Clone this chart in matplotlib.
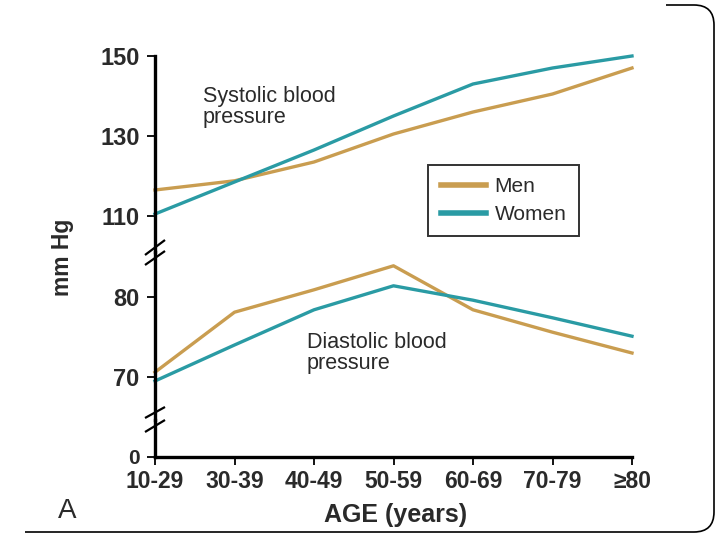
import numpy as np
import matplotlib
matplotlib.use("Agg")
import matplotlib.pyplot as plt
from matplotlib.path import Path
from matplotlib.patches import PathPatch

plt.rcParams['font.family'] = ['Liberation Sans', 'DejaVu Sans']

# ---- data
ages = ['10-29', '30-39', '40-49', '50-59', '60-69', '70-79', '\u226580']
men_sys = [116.5, 118.8, 123.5, 130.5, 136.0, 140.5, 147.0]
women_sys = [110.5, 118.5, 126.5, 135.0, 143.0, 147.0, 150.0]
men_dia = [70.6, 78.1, 80.9, 83.9, 78.4, 75.6, 73.0]
women_dia = [69.5, 74.0, 78.4, 81.4, 79.6, 77.4, 75.1]

MEN = '#C99D50'
WOMEN = '#2A9BA4'
TXT = '#2a2a2a'
W, H = 720, 540

fig = plt.figure(figsize=(W / 100, H / 100), dpi=100)
fig.patch.set_facecolor('white')


def box(x0, x1, ytop, ybot):
    # pixel box -> figure fraction rect
    return [x0 / W, 1 - ybot / H, (x1 - x0) / W, (ybot - ytop) / H]


x = np.arange(len(ages))
ax_top = fig.add_axes(box(155, 632, 56, 252))
ax_mid = fig.add_axes(box(155, 632, 252, 420))
ax_bot = fig.add_axes(box(155, 632, 420, 457))

ax_top.set_ylim(101, 150)
ax_mid.set_ylim(64.625, 85.625)
ax_bot.set_ylim(0, 37)

for ax in (ax_top, ax_mid, ax_bot):
    ax.set_xlim(0, len(ages) - 1)
    ax.patch.set_alpha(0)
    for s in ('top', 'right'):
        ax.spines[s].set_visible(False)
    ax.spines['left'].set_linewidth(2.4)
    ax.spines['bottom'].set_linewidth(2.4)
    ax.tick_params(axis='y', length=6, width=1.3, pad=5, labelsize=17,
                   labelcolor=TXT)

for ax in (ax_top, ax_mid):
    ax.spines['bottom'].set_visible(False)
    ax.set_xticks([])

ax_top.set_yticks([110, 130, 150])
ax_mid.set_yticks([70, 80])
ax_bot.set_yticks([0])
ax_bot.tick_params(axis='y', labelsize=15)
for ax in (ax_top, ax_mid, ax_bot):
    for lab in ax.get_yticklabels():
        lab.set_fontweight('bold')

ax_bot.set_xticks(x)
ax_bot.set_xticklabels(ages, fontsize=16.5, fontweight='bold', color=TXT)
ax_bot.tick_params(axis='x', length=6, width=1.3, pad=3)

lw = 2.4
l1, = ax_top.plot(x, men_sys, color=MEN, lw=lw, clip_on=False,
                  solid_joinstyle='round', label='Men')
l2, = ax_top.plot(x, women_sys, color=WOMEN, lw=lw, clip_on=False,
                  solid_joinstyle='round', label='Women')
ax_mid.plot(x, men_dia, color=MEN, lw=lw, clip_on=False, solid_joinstyle='round')
ax_mid.plot(x, women_dia, color=WOMEN, lw=lw, clip_on=False, solid_joinstyle='round')

leg = fig.legend(handles=[l1, l2], loc='upper left',
                 bbox_to_anchor=(428 / W, 1 - 165 / H), fontsize=15,
                 frameon=True, fancybox=False, handlelength=2.2,
                 handletextpad=0.4, borderpad=0.6, labelspacing=0.4,
                 borderaxespad=0)
leg.get_frame().set_edgecolor('black')
leg.get_frame().set_linewidth(1.4)
for t in leg.get_texts():
    t.set_color(TXT)
for h in leg.legend_handles:
    h.set_linewidth(4)

fig.text(203 / W, 1 - 86 / H, 'Systolic blood\npressure', fontsize=15.5,
         color=TXT, va='top', ha='left', linespacing=1.0)
fig.text(307 / W, 1 - 332 / H, 'Diastolic blood\npressure', fontsize=15.5,
         color=TXT, va='top', ha='left', linespacing=1.0)
fig.text(396 / W, 1 - 515 / H, 'AGE (years)', fontsize=18, fontweight='bold',
         color=TXT, ha='center', va='center')
fig.text(63 / W, 1 - 257 / H, 'mm Hg', fontsize=16.5, fontweight='bold',
         color=TXT, rotation=90, ha='center', va='center')
fig.text(67 / W, 1 - 511 / H, 'A', fontsize=20, color=TXT,
         ha='center', va='center')

# overlay in pixel coordinates for break marks and slide border
ov = fig.add_axes([0, 0, 1, 1], zorder=10)
ov.set_xlim(0, W)
ov.set_ylim(H, 0)
ov.axis('off')
ov.patch.set_alpha(0)

for (xa, ya, xb, yb) in [(145, 255, 165, 240), (145, 265, 165, 251),
                          (145, 418, 165, 407), (145, 432, 165, 420)]:
    ov.plot([xa, xb], [ya, yb], color='black', lw=1.6, solid_capstyle='butt')

r = 20
verts = [(666, 5), (714 - r, 5), (714, 5), (714, 5 + r),
         (714, 532 - r), (714, 532), (714 - r, 532), (25, 532)]
codes = [Path.MOVETO, Path.LINETO, Path.CURVE3, Path.CURVE3,
         Path.LINETO, Path.CURVE3, Path.CURVE3, Path.LINETO]
ov.add_patch(PathPatch(Path(verts, codes), fill=False, edgecolor='black', lw=1.2))

fig.savefig('out.png', dpi=100)
